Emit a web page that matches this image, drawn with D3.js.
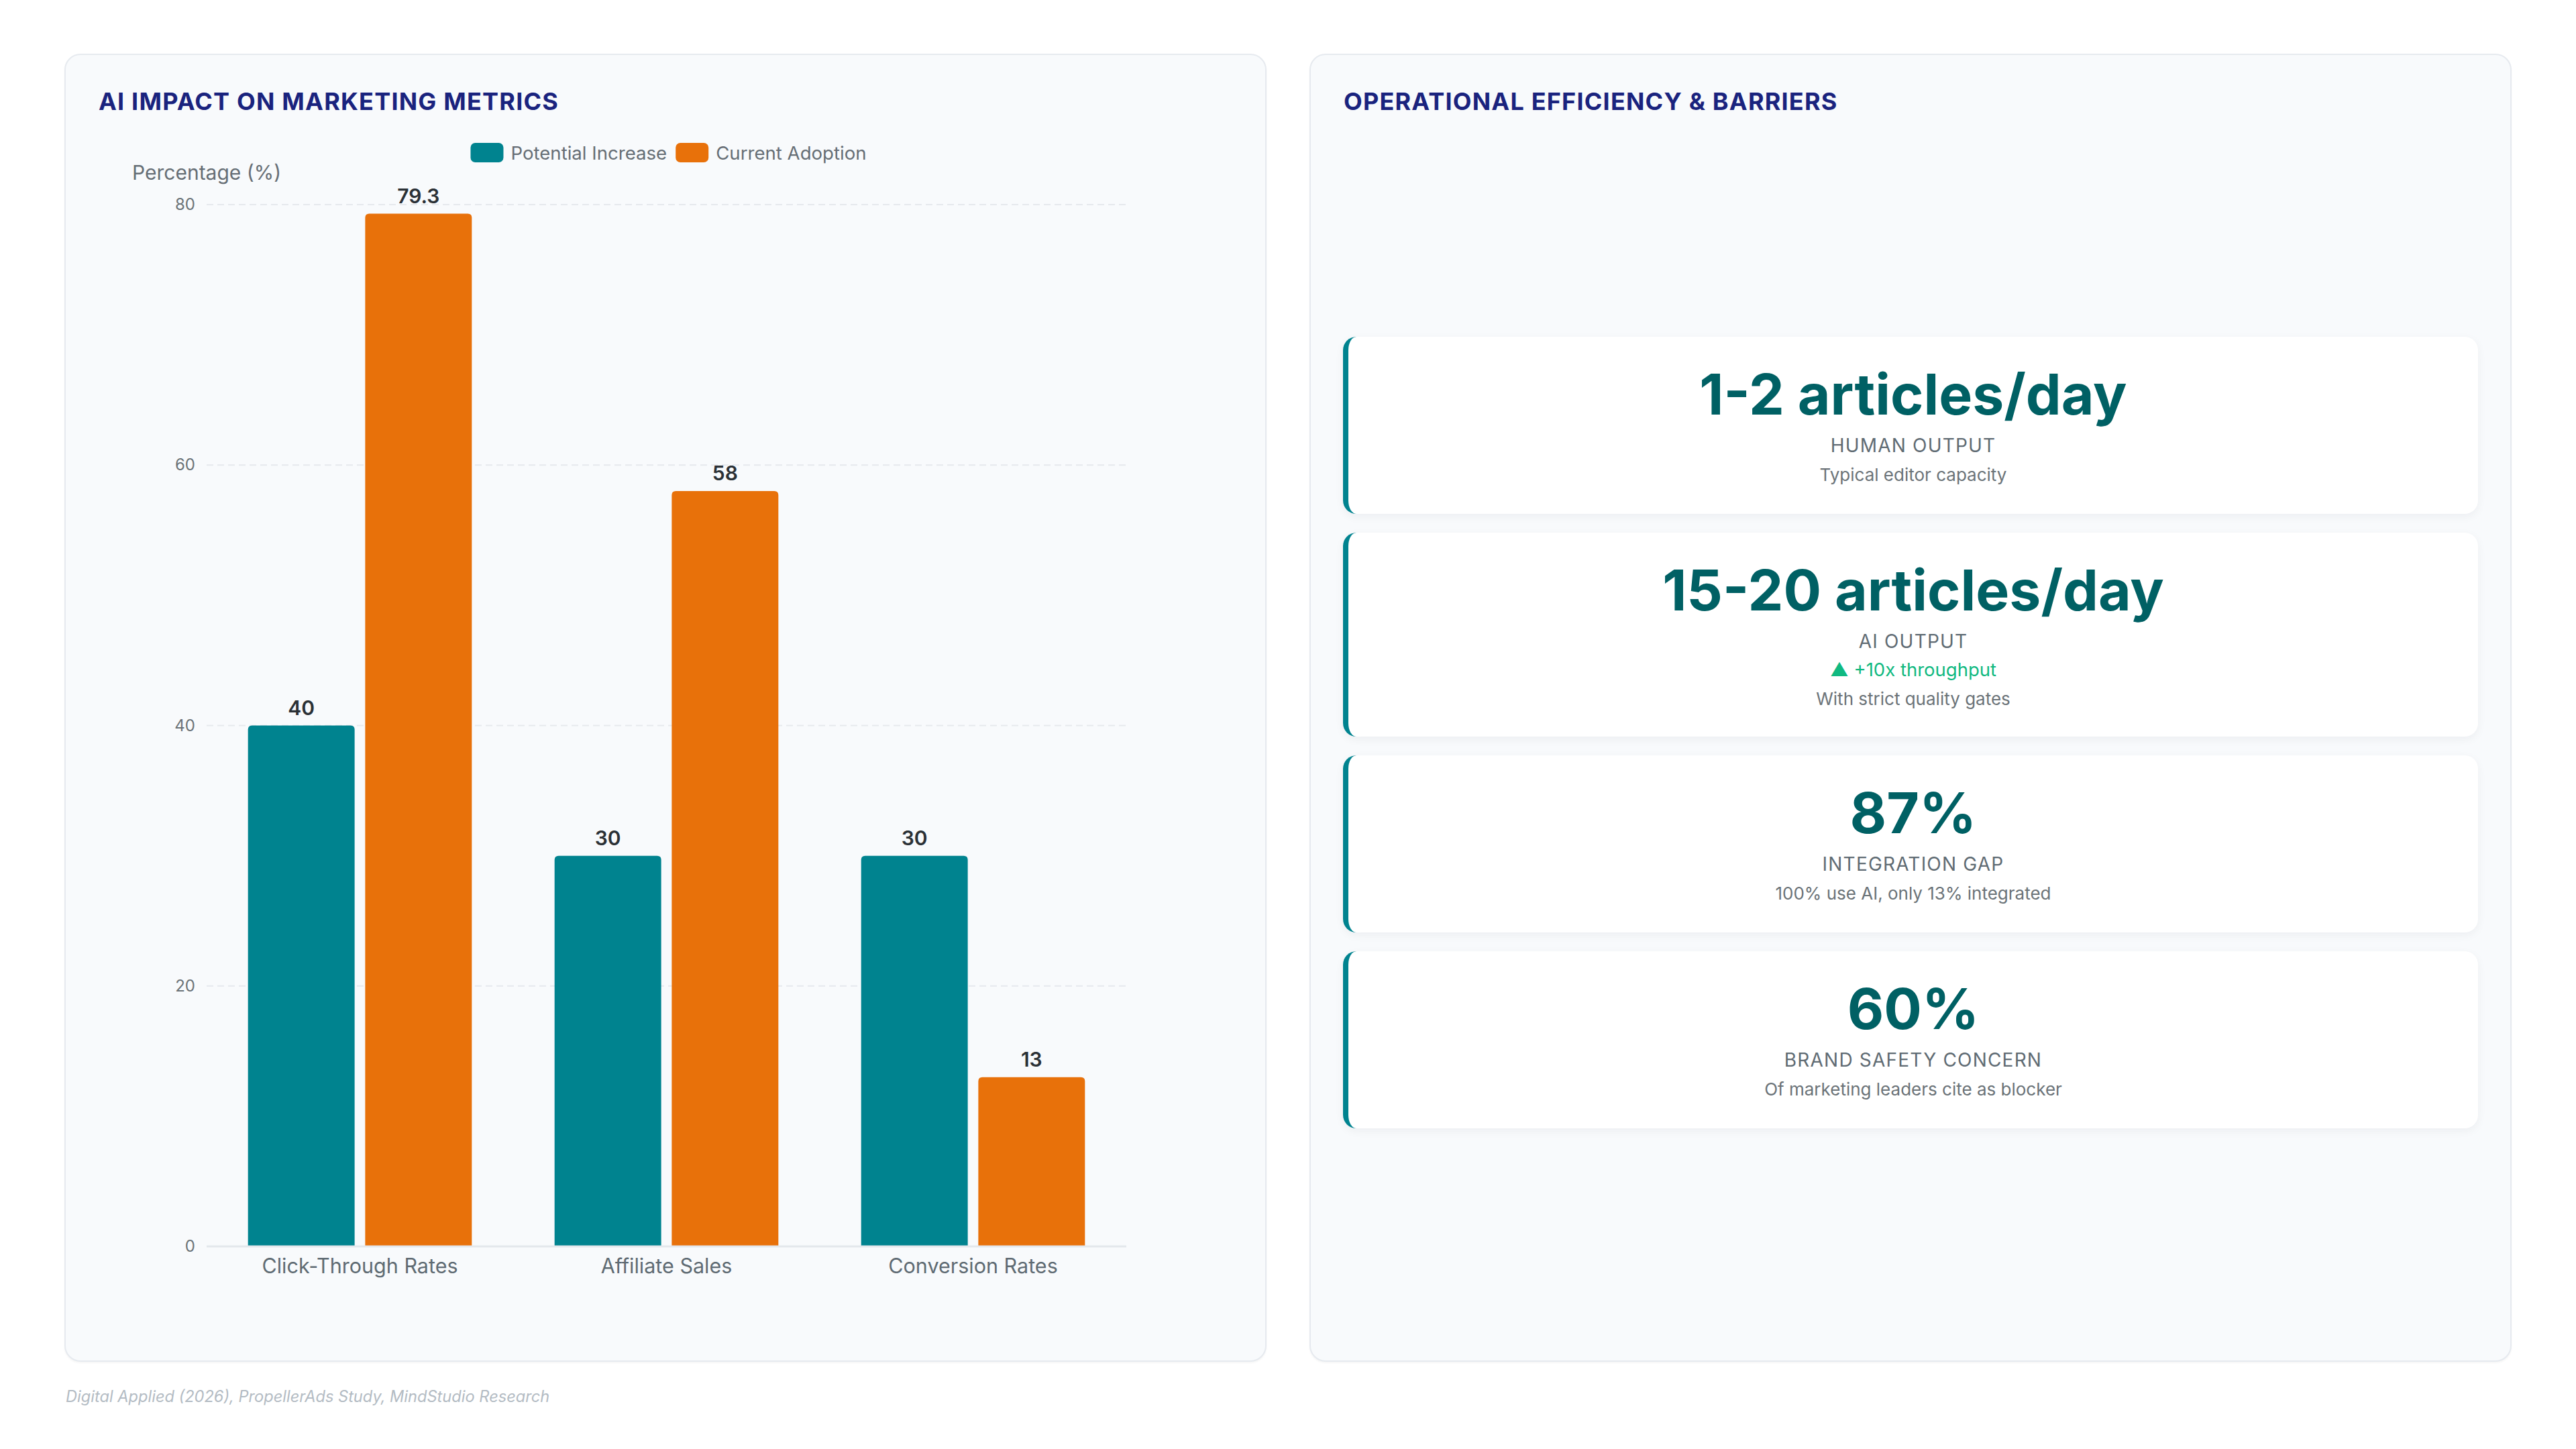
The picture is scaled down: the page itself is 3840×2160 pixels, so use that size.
<!DOCTYPE html>
<html>
<head>
<meta charset="utf-8">
<script src="https://cdn.jsdelivr.net/npm/d3@7"></script>
<style>
  html, body { margin: 0; padding: 0; background: #ffffff; }
  body { width: 3840px; height: 2160px; position: relative; overflow: hidden; font-family: Inter, "Noto Sans", sans-serif; }
  .panel { position: absolute; box-sizing: border-box; background: #f8fafc; border: 2px solid #e6eaef; border-radius: 24px; box-shadow: 0 2px 3px rgba(0,0,0,0.04); }
  .card { position: absolute; box-sizing: border-box; background: #ffffff; border-left: 8px solid #00838f; border-radius: 20px; box-shadow: 0 4px 14px rgba(15,23,42,0.05); }
  svg { position: absolute; left: 0; top: 0; }
</style>
</head>
<body>
<script>
// chart data
const categories = ["Click-Through Rates", "Affiliate Sales", "Conversion Rates"];
const seriesNames = ["Potential Increase", "Current Adoption"];
const potentialIncrease = [40, 30, 30];
const currentAdoption = [79.3, 58, 13];
const yTicks = [0, 20, 40, 60, 80];

// kpi cards
const kpiValues = ["1-2 articles/day", "15-20 articles/day", "87%", "60%"];
const kpiLabels = ["HUMAN OUTPUT", "AI OUTPUT", "INTEGRATION GAP", "BRAND SAFETY CONCERN"];
const kpiDeltas = [null, "▲ +10x throughput", null, null];
const kpiNotes = ["Typical editor capacity", "With strict quality gates", "100% use AI, only 13% integrated", "Of marketing leaders cite as blocker"];

const sourceText = "Digital Applied (2026), PropellerAds Study, MindStudio Research";

const colors = { "Potential Increase": "#00838f", "Current Adoption": "#e8710a" };
const W = 3840, H = 2160;
const plotL = 308, plotR = 1679;
const body = d3.select("body");

// panels
const panels = [
  { x: 96, title: "AI IMPACT ON MARKETING METRICS" },
  { x: 1952, title: "OPERATIONAL EFFICIENCY & BARRIERS" }
];
body.selectAll("div.panel").data(panels).join("div")
  .attr("class", "panel")
  .style("left", d => d.x + "px").style("top", "80px")
  .style("width", "1792px").style("height", "1950px");

// card boxes
const cardLeft = 2002, cardRight = 3694;
const cards = kpiValues.map((v, i) => ({
  value: v, label: kpiLabels[i], delta: kpiDeltas[i], note: kpiNotes[i]
}));
let cy = 502;
cards.forEach(c => {
  c.h = c.delta ? 304 : 264;
  c.y = cy;
  cy += c.h + 28;
});
body.selectAll("div.card").data(cards).join("div")
  .attr("class", "card")
  .style("left", cardLeft + "px").style("top", d => d.y + "px")
  .style("width", (cardRight - cardLeft) + "px").style("height", d => d.h + "px");

const svg = body.append("svg").attr("width", W).attr("height", H);

// panel titles
svg.selectAll("text.ptitle").data(panels).join("text")
  .attr("class", "ptitle")
  .attr("x", d => d.x + 51).attr("y", 164)
  .attr("font-size", 36).attr("font-weight", 700)
  .attr("letter-spacing", "1.2px")
  .attr("fill", "#1a237e")
  .text(d => d.title);

// ---- bar chart ----
const x0 = d3.scaleBand().domain(categories).range([plotL, plotR]).paddingInner(0.27).paddingOuter(0.135);
const x1 = d3.scaleBand().domain(seriesNames).range([0, x0.bandwidth()]).paddingInner(0.09);
const y = d3.scaleLinear().domain([0, 80]).range([1858, 305]);

const chart = svg.append("g");

// grid
chart.selectAll("line.grid").data(yTicks.filter(t => t > 0)).join("line")
  .attr("x1", plotL).attr("x2", plotR)
  .attr("y1", d => y(d)).attr("y2", d => y(d))
  .attr("stroke", "#e6e9ed").attr("stroke-width", 2)
  .attr("stroke-dasharray", "10 6");

// y axis ticks
const yAxis = d3.axisLeft(y).tickValues(yTicks).tickSize(0).tickPadding(0);
const yg = chart.append("g").attr("transform", "translate(291,0)").call(yAxis);
yg.select(".domain").remove();
yg.selectAll("text").attr("font-family", "Inter").attr("font-size", 24).attr("fill", "#6b7378");

chart.append("text")
  .attr("x", 197).attr("y", 268)
  .attr("font-size", 30).attr("fill", "#666e75")
  .text("Percentage (%)");

// bars
const rows = categories.map((c, i) => ({
  category: c,
  values: [
    { series: seriesNames[0], value: potentialIncrease[i] },
    { series: seriesNames[1], value: currentAdoption[i] }
  ]
}));

function topRounded(x, yTop, w, h, r) {
  r = Math.min(r, h, w / 2);
  return `M${x},${yTop + h}V${yTop + r}Q${x},${yTop} ${x + r},${yTop}H${x + w - r}Q${x + w},${yTop} ${x + w},${yTop + r}V${yTop + h}Z`;
}

const groups = chart.selectAll("g.cat").data(rows).join("g")
  .attr("class", "cat")
  .attr("transform", d => `translate(${x0(d.category)},0)`);

groups.selectAll("path").data(d => d.values).join("path")
  .attr("fill", d => colors[d.series])
  .attr("d", d => topRounded(x1(d.series), y(d.value), x1.bandwidth(), y(0) - y(d.value), 6));

groups.selectAll("text.val").data(d => d.values).join("text")
  .attr("class", "val")
  .attr("x", d => x1(d.series) + x1.bandwidth() / 2)
  .attr("y", d => y(d.value) - 16)
  .attr("text-anchor", "middle")
  .attr("font-size", 30).attr("font-weight", 600).attr("fill", "#2b3136")
  .text(d => d.value);

// baseline
chart.append("line")
  .attr("x1", plotL).attr("x2", plotR).attr("y1", y(0)).attr("y2", y(0))
  .attr("stroke", "#e3e7eb").attr("stroke-width", 3);

// x axis labels
const xAxis = d3.axisBottom(x0).tickSize(0).tickPadding(0);
const xg = chart.append("g").attr("transform", `translate(0,${y(0)})`).call(xAxis);
xg.select(".domain").remove();
xg.selectAll("text")
  .attr("font-family", "Inter").attr("font-size", 30.5).attr("fill", "#5f6b73")
  .attr("dy", null).attr("y", 40);

// legend
const legend = chart.append("g").attr("transform", "translate(0,213)");
const items = legend.selectAll("g").data(seriesNames).join("g");
items.append("rect").attr("width", 49).attr("height", 29).attr("rx", 7)
  .attr("fill", d => colors[d]);
items.append("text").attr("x", 60).attr("y", 25)
  .attr("font-size", 27.6).attr("fill", "#666e75")
  .text(d => d);
let lx = 0;
items.each(function () {
  d3.select(this).attr("transform", `translate(${lx},0)`);
  lx += 60 + this.querySelector("text").getComputedTextLength() + 13;
});
const legendW = lx - 13;
legend.attr("transform", `translate(${(plotL + plotR) / 2 - legendW / 2 + 3},213)`);

// ---- kpi text ----
const cardCx = (cardLeft + 8 + cardRight) / 2;
const kt = svg.selectAll("g.kpi").data(cards).join("g")
  .attr("class", "kpi")
  .attr("transform", d => `translate(${cardCx},${d.y})`)
  .attr("text-anchor", "middle");

kt.append("text").attr("y", 116)
  .attr("font-size", 84).attr("font-weight", 700).attr("fill", "#006064")
  .text(d => d.value);
kt.append("text").attr("y", 172)
  .attr("font-size", 28).attr("font-weight", 400).attr("letter-spacing", "1.2px").attr("fill", "#5f6b73")
  .text(d => d.label);
kt.filter(d => d.delta).append("text").attr("y", 214)
  .attr("font-size", 27.5).attr("fill", "#10b981")
  .text(d => d.delta);
kt.append("text").attr("y", d => d.delta ? 257 : 215)
  .attr("font-size", 26).attr("fill", "#6b7378")
  .text(d => d.note);

// source
svg.append("text")
  .attr("x", 98).attr("y", 2090)
  .attr("font-size", 23.6).attr("font-style", "italic").attr("fill", "#b3bbc3")
  .text(sourceText);

svg.selectAll("text").attr("font-family", "Inter, 'Noto Sans', sans-serif");
</script>
</body>
</html>
